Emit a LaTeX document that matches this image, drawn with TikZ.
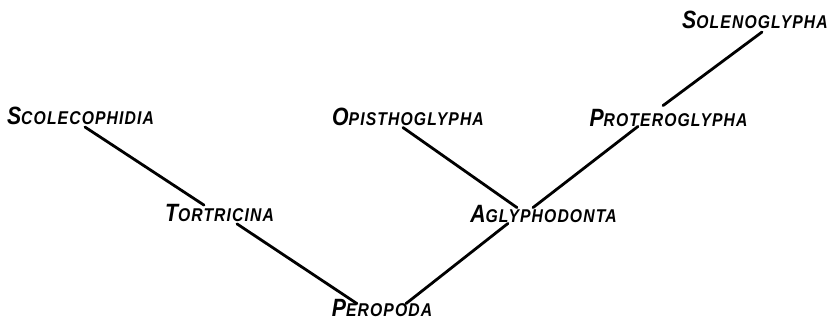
\documentclass[tikz,border=0pt]{standalone}
\usepackage{fontspec}
\newfontfamily\lettering{Liberation Sans}[FakeStretch=0.85, LetterSpace=6]
\newcommand{\cladename}[2]{{\fontsize{25}{25}\selectfont #1}{\fontsize{18.5}{18.5}\selectfont #2}}
\usetikzlibrary{positioning}

\begin{document}
\begin{tikzpicture}[
  x=1pt, y=1pt,
  clade/.style={font=\lettering\bfseries\itshape, inner sep=0pt},
  branch/.style={draw=black, line width=2.8pt, line cap=round}
]
\useasboundingbox (0,0) rectangle (840,321);

\node[clade] (scol) at (80.5, 205) {\cladename{S}{COLECOPHIDIA}};
\node[clade] (tort) at (219.5, 108) {\cladename{T}{ORTRICINA}};
\node[clade] (opis) at (408, 204.5) {\cladename{O}{PISTHOGLYPHA}};
\node[clade] (agly) at (543.5, 107.5) {\cladename{A}{GLYPHODONTA}};
\node[clade] (prot) at (668.5, 203.5) {\cladename{P}{ROTEROGLYPHA}};
\node[clade] (sole) at (755, 301) {\cladename{S}{OLENOGLYPHA}};
\node[clade] (pero) at (382, 13.5) {\cladename{P}{EROPODA}};

\draw[branch] ([shift={(4.5,-2)}]scol.south) -- ([shift={(-15.5,-1)}]tort.north);
\draw[branch] ([shift={(17.5,-2)}]tort.south) -- ([shift={(-25,-5)}]pero.north);
\draw[branch] ([shift={(-5,-2)}]opis.south) -- ([shift={(-26.5,-3)}]agly.north);
\draw[branch] ([shift={(-35.5,-1)}]agly.south) -- ([shift={(24,-5)}]pero.north);
\draw[branch] ([shift={(-10.5,-3)}]agly.north) -- ([shift={(-30.5,0)}]prot.south);
\draw[branch] ([shift={(-5.5,3)}]prot.north) -- ([shift={(7,-3)}]sole.south);

\end{tikzpicture}
\end{document}
